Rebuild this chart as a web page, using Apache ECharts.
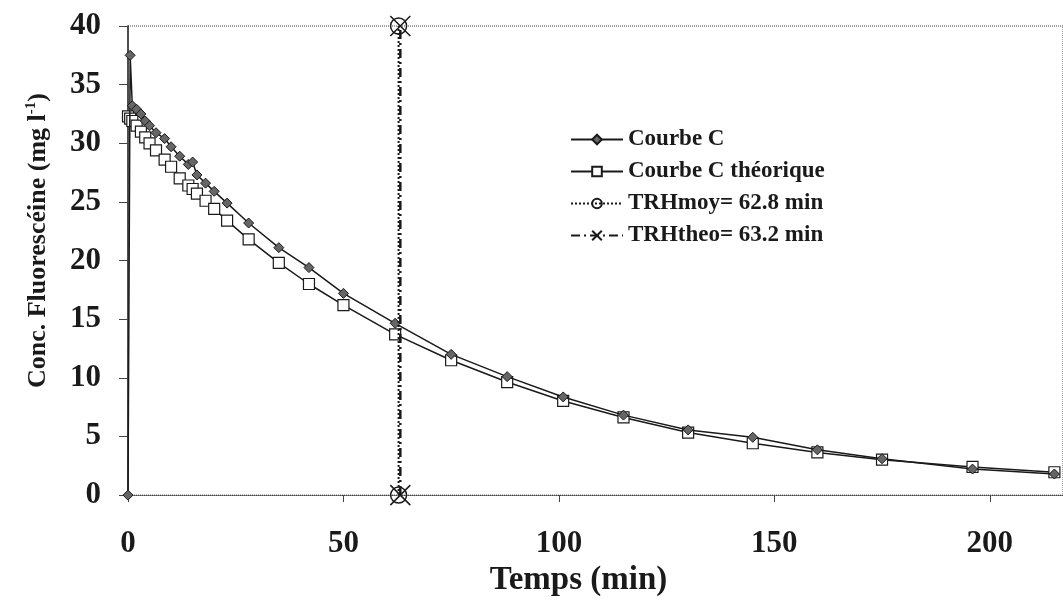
<!DOCTYPE html>
<html><head><meta charset="utf-8">
<script src="https://cdn.jsdelivr.net/npm/echarts@6/dist/echarts.min.js"></script>
<style>html,body{margin:0;padding:0;background:#fff}#c{width:1063px;height:602px}</style>
</head><body><div id="c"></div>
<script>
// ---- data ----
const timeMin = [0, 0.5, 1, 2, 3, 4, 5, 6.5, 8.5, 10, 12, 14, 15, 16, 18, 20, 23, 28, 35, 42, 50, 62, 75, 88, 101, 115, 130, 145, 160, 175, 196, 215];
const courbeC = [0, 37.5, 33.2, 32.9, 32.5, 31.9, 31.5, 30.9, 30.4, 29.7, 28.9, 28.2, 28.4, 27.3, 26.6, 25.9, 24.9, 23.2, 21.1, 19.4, 17.2, 14.65, 12.0, 10.1, 8.37, 6.82, 5.56, 4.93, 3.86, 3.10, 2.22, 1.80];
const courbeCTheo = [32.3, 32.1, 31.9, 31.5, 31.0, 30.5, 30.0, 29.4, 28.6, 28.0, 27.0, 26.4, 26.1, 25.7, 25.1, 24.4, 23.4, 21.8, 19.8, 18.0, 16.2, 13.7, 11.5, 9.64, 8.03, 6.62, 5.33, 4.42, 3.64, 3.02, 2.40, 1.95];
const trhMoy = 62.8;
const trhTheo = 63.2;
const trhEnds = [0, 40];
const xTicks = [0, 50, 100, 150, 200];
const yTicks = [0, 5, 10, 15, 20, 25, 30, 35, 40];
const seriesNames = ['Courbe C', 'Courbe C théorique', 'TRHmoy= 62.8 min', 'TRHtheo= 63.2 min'];

const FONT = 'Liberation Serif';
const ink = '#1a1a1a';

const pairs = (xs, ys) => xs.map((x, i) => [x, ys[i]]);
const vline = (x) => trhEnds.map(y => [x, y]);

const chart = echarts.init(document.getElementById('c'), null, {renderer: 'canvas'});
chart.setOption({
  animation: false,
  backgroundColor: '#fff',
  grid: {left: 128, top: 26, right: -2, bottom: 103, show: true, borderColor: '#444', borderWidth: 1, borderType: 'dotted'},
  legend: {
    data: seriesNames,
    orient: 'vertical', left: 565, top: 123,
    itemWidth: 52, itemHeight: 12, itemGap: 9,
    textStyle: {fontFamily: FONT, fontWeight: 'bold', fontSize: 23, color: ink}
  },
  xAxis: {
    type: 'value', min: xTicks[0], max: 217, interval: 50,
    axisLine: {show: true, lineStyle: {color: '#444', type: 'dotted', width: 1}},
    axisTick: {show: true, inside: false, length: 7, lineStyle: {color: '#444'}},
    splitLine: {show: false},
    axisLabel: {margin: 33, fontFamily: FONT, fontWeight: 'bold', fontSize: 31, color: ink,
      customValues: xTicks},
    name: 'Temps (min)', nameLocation: 'middle', nameGap: 68,
    nameTextStyle: {fontFamily: FONT, fontWeight: 'bold', fontSize: 33, color: ink, padding: [0, 34, 0, 0]}
  },
  yAxis: {
    type: 'value', min: yTicks[0], max: yTicks[yTicks.length - 1], interval: 5,
    axisLine: {show: true, lineStyle: {color: '#222', width: 1.5}},
    axisTick: {show: true, inside: false, length: 9, lineStyle: {color: '#444'}},
    splitLine: {show: false},
    axisLabel: {margin: 27, fontFamily: FONT, fontWeight: 'bold', fontSize: 31, color: ink},
    name: '{a|Conc. Fluorescéine (mg l}{s|-1}{a|)}',
    nameLocation: 'middle', nameGap: 75,
    nameTextStyle: {
      padding: [0, 0, 0, 40],
      rich: {
        a: {fontFamily: FONT, fontWeight: 'bold', fontSize: 26, color: ink, lineHeight: 30},
        s: {fontFamily: FONT, fontWeight: 'bold', fontSize: 15, color: ink, lineHeight: 30, padding: [0, 0, 14, 0]}
      }
    }
  },
  series: [
    {
      name: seriesNames[1], type: 'line', z: 3,
      data: pairs(timeMin, courbeCTheo),
      symbol: 'rect', symbolSize: 11, showAllSymbol: true,
      itemStyle: {color: '#fff', borderColor: ink, borderWidth: 1.2},
      lineStyle: {color: ink, width: 1.5}
    },
    {
      name: seriesNames[0], type: 'line', z: 4,
      data: pairs(timeMin, courbeC),
      symbol: 'diamond', symbolSize: 10, showAllSymbol: true,
      itemStyle: {color: '#666', borderColor: ink, borderWidth: 1},
      lineStyle: {color: ink, width: 1.5}
    },
    {
      name: seriesNames[2], type: 'line', z: 5, clip: false,
      data: vline(trhMoy),
      symbol: 'circle', symbolSize: 16,
      itemStyle: {color: 'rgba(255,255,255,0)', borderColor: ink, borderWidth: 1.5},
      lineStyle: {color: ink, width: 2, type: 'dotted'}
    },
    {
      name: seriesNames[3], type: 'line', z: 6, clip: false,
      data: vline(trhTheo),
      symbol: 'path://M0,0L10,10M10,0L0,10', symbolSize: 20,
      itemStyle: {color: 'none', borderColor: ink, borderWidth: 1.5},
      lineStyle: {color: ink, width: 2.5, type: [9, 4, 2, 4]}
    }
  ]
});
</script>
</body></html>
